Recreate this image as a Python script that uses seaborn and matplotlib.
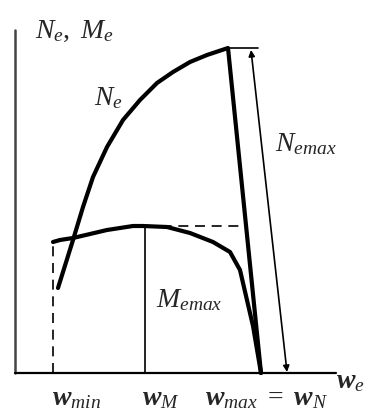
import matplotlib
matplotlib.use("Agg")
import matplotlib.pyplot as plt
import pandas as pd
import seaborn as sns

# Schematic engine curves (origin at axes corner)
ne_x = [43, 58, 68, 78, 92, 108, 125, 142, 158, 175, 192, 213, 246]
ne_y = [85, 133, 166, 196, 226, 253, 273, 290, 301, 311, 318, 325, 0]
me_x = [38, 45, 58, 92, 118, 128, 152, 175, 198, 215, 225, 238, 246]
me_y = [131, 133, 135, 143, 147, 147, 146, 140, 131, 121, 103, 47, 0]

w_min, w_M = 38, 130
me_peak, ne_peak = 147, 325

sns.set_style("white")
plt.rcParams['mathtext.fontset'] = 'custom'
plt.rcParams['mathtext.rm'] = 'Liberation Serif'
plt.rcParams['mathtext.it'] = 'Liberation Serif:italic'
plt.rcParams['mathtext.bf'] = 'Liberation Serif:bold:italic'

fig = plt.figure(figsize=(3.66, 4.12), dpi=100)
ax = fig.add_axes([0, 0, 1, 1])

df_ne = pd.DataFrame({'x': ne_x, 'y': ne_y})
df_me = pd.DataFrame({'x': me_x, 'y': me_y})
sns.lineplot(data=df_ne, x='x', y='y', sort=False, color='black', lw=3, ax=ax)
sns.lineplot(data=df_me, x='x', y='y', sort=False, color='black', lw=3, ax=ax)

# helper lines
ax.plot([w_min, w_min], [0, me_y[0]], color='black', lw=1.2, ls=(0, (6, 4)))
ax.plot([w_M, w_M], [0, me_peak], color='black', lw=1.2)
ax.plot([w_M, 230], [me_peak, me_peak], color='black', lw=1.2, ls=(0, (6, 4)))
ax.plot([213, 243], [ne_peak, ne_peak], color='black', lw=1.2)
ax.annotate('', xy=(272, 1), xytext=(236, 323),
            arrowprops=dict(arrowstyle='<|-|>', color='black', lw=1.2,
                            mutation_scale=9, shrinkA=0, shrinkB=0))

# axes
ax.plot([0, 0], [0, 343], color='#444444', lw=1.8)
ax.plot([0, 321], [0, 0], color='black', lw=1.6)

fs = 20
ax.text(20, 343, r'$N_e,\ M_e$', fontsize=fs, ha='left', va='center')
ax.text(79, 276, r'$N_e$', fontsize=fs, ha='left', va='center')
ax.text(260, 230, r'$N_{emax}$', fontsize=fs, ha='left', va='center')
ax.text(141, 74, r'$M_{emax}$', fontsize=fs, ha='left', va='center')
ax.text(37, -24, r'$\mathbf{w}_{min}$', fontsize=fs, ha='left', va='center')
ax.text(127, -24, r'$\mathbf{w}_M$', fontsize=fs, ha='left', va='center')
ax.text(190, -24, r'$\mathbf{w}_{max}\ =\ \mathbf{w}_N$', fontsize=fs, ha='left', va='center')
ax.text(321, -7, r'$\mathbf{w}_e$', fontsize=fs, ha='left', va='center')

ax.set_xlim(-15, 351)
ax.set_ylim(-39, 373)
ax.axis('off')

fig.savefig('out.png', dpi=100)
